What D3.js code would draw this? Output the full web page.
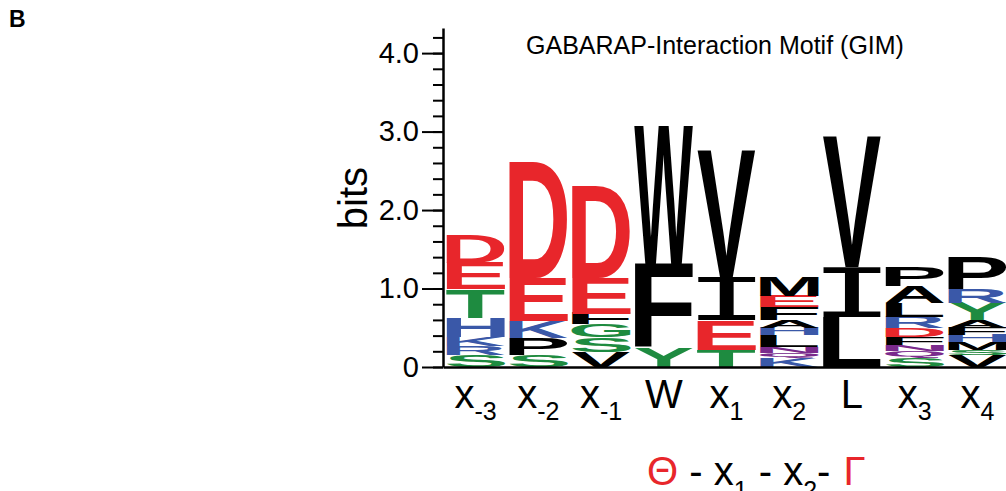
<!DOCTYPE html>
<html>
<head>
<meta charset="utf-8">
<script src="https://cdn.jsdelivr.net/npm/d3@7"></script>
<style>
  body { margin: 0; background: #fff; }
  svg { display: block; font-family: "Liberation Sans", Arial, sans-serif; }
</style>
</head>
<body>
<div id="chart"></div>
<script>
// motif positions (label + subscript)
const posBase = ["x", "x", "x", "W", "x", "x", "L", "x", "x"];
const posSub = ["-3", "-2", "-1", "", "1", "2", "", "3", "4"];

// residues in each column, bottom to top
const stackLetters = [
    ["S", "R", "K", "H", "T", "E", "D"],
    ["S", "P", "K", "E", "D"],
    ["V", "S", "G", "F", "E", "D"],
    ["Y", "F", "W"],
    ["T", "E", "I", "V"],
    ["K", "Q", "N", "L", "H", "A", "F", "E", "M"],
    ["L", "I", "V"],
    ["S", "Q", "N", "F", "D", "R", "L", "A", "P"],
    ["V", "S", "M", "H", "F", "A", "Y", "R", "P"]
];

// letter heights in bits, same order
const stackBits = [
    [0.15, 0.12, 0.11, 0.25, 0.36, 0.34, 0.36],
    [0.15, 0.22, 0.21, 0.56, 1.48],
    [0.19, 0.19, 0.16, 0.14, 0.46, 1.17],
    [0.24, 1.07, 1.77],
    [0.22, 0.38, 0.55, 1.61],
    [0.115, 0.065, 0.08, 0.15, 0.09, 0.10, 0.16, 0.15, 0.24],
    [0.64, 0.63, 1.67],
    [0.12, 0.08, 0.08, 0.10, 0.12, 0.14, 0.18, 0.21, 0.25],
    [0.15, 0.07, 0.10, 0.09, 0.09, 0.10, 0.22, 0.17, 0.41]
];

const yTicks = [0, 1, 2, 3, 4];
const yTickLabels = ["0", "1.0", "2.0", "3.0", "4.0"];

// chemistry colouring
const residueGroups = { acidic: "DE", basic: "HKR", polar: "GSTYC", neutral: "NQ", hydrophobic: "AVLIPWFM" };
const groupColors = { acidic: "#e8262b", basic: "#3a58a8", polar: "#1e8b40", neutral: "#7a2a8c", hydrophobic: "#000000" };

function residueColor(r) {
    const g = Object.keys(residueGroups).find(k => residueGroups[k].includes(r));
    return groupColors[g];
}

// I gets a serif glyph so it doesn't turn into a block when stretched
function letterFamily(ch) { return ch === 'I' ? 'DejaVu Sans Mono' : 'Liberation Sans'; }
function letterWeight(ch) { return ch === 'I' ? 'normal' : 'bold'; }

const width = 1006;
const height = 491;

const svg = d3.select('#chart')
    .append('svg')
    .attr('width', width)
    .attr('height', height);

const xScale = d3.scaleBand()
    .domain(d3.range(posBase.length))
    .range([443, 1010])
    .paddingInner(0.06)
    .paddingOuter(0.05);

const yScale = d3.scaleLinear()
    .domain([0, 4.32])
    .range([367, 28]);

// measure tight glyph boxes so letters fill their cells
const ctx = document.createElement('canvas').getContext('2d');
const glyphBox = {};
function measure(ch) {
    if (!glyphBox[ch]) {
        ctx.font = `${letterWeight(ch)} 100px '${letterFamily(ch)}'`;
        const m = ctx.measureText(ch);
        glyphBox[ch] = {
            left: m.actualBoundingBoxLeft,
            w: m.actualBoundingBoxLeft + m.actualBoundingBoxRight,
            asc: m.actualBoundingBoxAscent,
            desc: m.actualBoundingBoxDescent
        };
    }
    return glyphBox[ch];
}

// flatten stacks into letter cells
const cells = [];
stackLetters.forEach((letters, i) => {
    let base = 0;
    letters.forEach((ch, j) => {
        const bits = stackBits[i][j];
        cells.push({ col: i, ch: ch, y0: base, y1: base + bits });
        base += bits;
    });
});

// draw letters
svg.append('g')
    .selectAll('text')
    .data(cells)
    .join('text')
    .attr('font-family', d => letterFamily(d.ch))
    .attr('font-weight', d => letterWeight(d.ch))
    .attr('font-size', 100)
    .attr('fill', d => residueColor(d.ch))
    .attr('x', d => measure(d.ch).left)
    .attr('y', d => -measure(d.ch).desc)
    .attr('transform', d => {
        const b = measure(d.ch);
        const sx = xScale.bandwidth() / b.w;
        const sy = (yScale(d.y0) - yScale(d.y1)) / (b.asc + b.desc);
        return `translate(${xScale(d.col)},${yScale(d.y0)}) scale(${sx},${sy})`;
    })
    .text(d => d.ch);

// y axis, major ticks
const yAxis = svg.append('g')
    .attr('transform', 'translate(443,0)')
    .call(d3.axisLeft(yScale)
        .tickValues(yTicks)
        .tickSize(21)
        .tickSizeOuter(0)
        .tickPadding(3)
        .tickFormat((d, i) => yTickLabels[i]));
yAxis.select('.domain').attr('stroke-width', 2.5);
yAxis.selectAll('.tick line').attr('stroke-width', 2);
yAxis.selectAll('.tick text')
    .attr('font-size', 29)
    .attr('font-family', 'Liberation Sans')
    .attr('fill', '#000');

// minor ticks every 0.2
const minor = svg.append('g')
    .attr('transform', 'translate(443,0)')
    .call(d3.axisLeft(yScale)
        .tickValues(d3.range(0, 22).map(i => i / 5))
        .tickSize(10)
        .tickFormat(''));
minor.select('.domain').remove();
minor.selectAll('.tick line').attr('stroke-width', 2);

// y axis title
svg.append('text')
    .attr('transform', 'translate(367,198) rotate(-90)')
    .attr('text-anchor', 'middle')
    .attr('font-size', 40)
    .text('bits');

// x axis line and position labels
const xAxis = svg.append('g')
    .attr('transform', `translate(0,${yScale(0)})`)
    .call(d3.axisBottom(xScale).tickSize(0).tickSizeOuter(0).tickFormat(''));
xAxis.select('.domain').attr('stroke-width', 2.5);

const labels = svg.append('g')
    .selectAll('text')
    .data(posBase.map((b, i) => ({ i: i, base: b, sub: posSub[i] })))
    .join('text')
    .attr('x', d => xScale(d.i) + xScale.bandwidth() / 2)
    .attr('y', 408)
    .attr('text-anchor', 'middle')
    .attr('font-size', 40);
labels.append('tspan').text(d => d.base);
labels.filter(d => d.sub !== '')
    .append('tspan')
    .attr('dy', 12)
    .attr('font-size', 25)
    .text(d => d.sub);

// title
svg.append('text')
    .attr('x', 715)
    .attr('y', 54)
    .attr('text-anchor', 'middle')
    .attr('font-size', 25)
    .text('GABARAP-Interaction Motif (GIM)');

// panel letter
svg.append('text')
    .attr('x', 9)
    .attr('y', 27)
    .attr('font-size', 23)
    .attr('font-weight', 'bold')
    .text('B');

// motif pattern under the axis
const motif = svg.append('text')
    .attr('x', 647)
    .attr('y', 485)
    .attr('font-size', 40);
motif.append('tspan').attr('fill', '#e8262b').text('Θ');
motif.append('tspan').text(' - x');
motif.append('tspan').attr('dy', 14).attr('font-size', 25).text('1');
motif.append('tspan').attr('dy', -14).text(' - x');
motif.append('tspan').attr('dy', 14).attr('font-size', 25).text('2');
motif.append('tspan').attr('dy', -14).text('- ');
motif.append('tspan').attr('fill', '#e8262b').attr('dx', 2).text('Γ');
</script>
</body>
</html>
